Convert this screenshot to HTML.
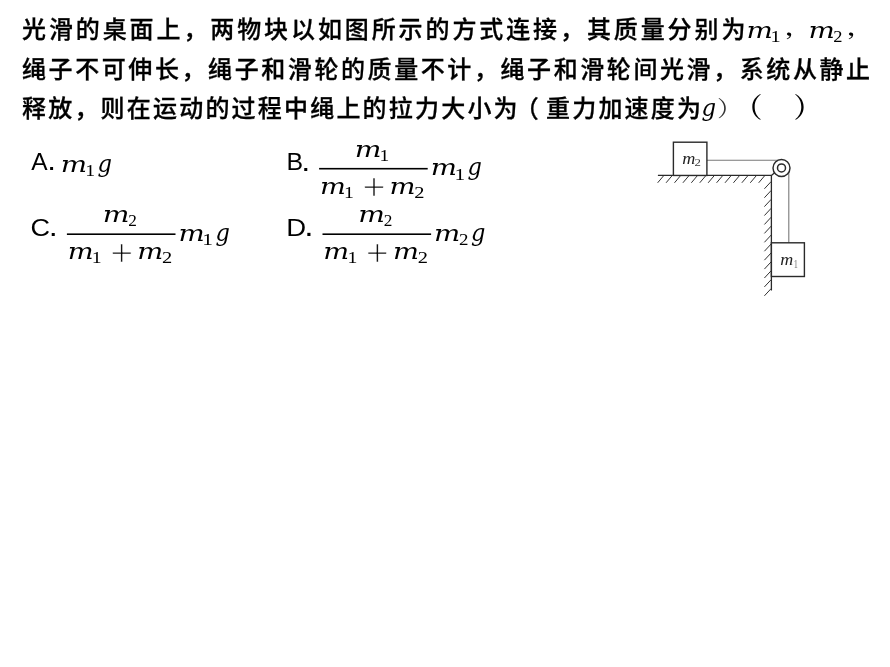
<!DOCTYPE html>
<html lang="zh-CN">
<head>
<meta charset="utf-8">
<title>题目</title>
<style>
html,body{margin:0;padding:0;background:#fff;}
body{width:890px;height:667px;position:relative;overflow:hidden;color:#000;}
.ln{will-change:transform;position:absolute;left:22px;white-space:nowrap;font-family:"Liberation Sans","Noto Sans CJK SC",sans-serif;font-weight:500;font-size:24px;-webkit-text-stroke:0.3px #000;line-height:40px;height:40px;}
#l1{top:10.2px;letter-spacing:2.9px;}
#l2{top:49.5px;letter-spacing:2.58px;}
#l3{top:88.8px;letter-spacing:2.2px;}
.c{position:relative;left:0px;}
.p{position:relative;left:-5px;}
svg{position:absolute;left:0;top:0;will-change:transform;}
.mi{font-family:"DejaVu Serif",serif;font-style:italic;font-size:23px;}
.mn{font-family:"Liberation Serif",serif;font-size:17px;}
.lb{font-family:"Liberation Sans",sans-serif;font-size:23px;}
.ti{font-family:"Liberation Serif",serif;font-style:italic;font-size:16px;}
.pl{font-family:"Liberation Serif",serif;font-size:32px;stroke:#fff;stroke-width:0.5px;}
.cj{font-family:"Noto Serif CJK SC",serif;font-size:26px;}
.cjb{font-family:"Noto Serif CJK SC",serif;font-size:24px;font-weight:600;}
</style>
</head>
<body>
<div class="ln" id="l1">光滑的桌面上<span class="c">，</span>两物块以如图所示的方式连接<span class="c">，</span>其质量分别为</div>
<div class="ln" id="l2">绳子不可伸长<span class="c">，</span>绳子和滑轮的质量不计<span class="c">，</span>绳子和滑轮间光滑<span class="c">，</span>系统从静止</div>
<div class="ln" id="l3">释放<span class="c">，</span>则在运动的过程中绳上的拉力大小为<span class="p">（</span>重力加速度为</div>
<svg width="890" height="667" viewBox="0 0 890 667">
<path d="M663.50 175.9L657.65 182.8M671.92 175.9L666.07 182.8M680.34 175.9L674.49 182.8M688.76 175.9L682.91 182.8M697.18 175.9L691.33 182.8M705.60 175.9L699.75 182.8M714.02 175.9L708.17 182.8M722.44 175.9L716.59 182.8M730.86 175.9L725.01 182.8M739.28 175.9L733.43 182.8M747.70 175.9L741.85 182.8M756.12 175.9L750.27 182.8M764.54 175.9L758.69 182.8M771.2 181.50L764.4 188.80M771.2 190.42L764.4 197.72M771.2 199.34L764.4 206.64M771.2 208.26L764.4 215.56M771.2 217.18L764.4 224.48M771.2 226.10L764.4 233.40M771.2 235.02L764.4 242.32M771.2 243.94L764.4 251.24M771.2 252.86L764.4 260.16M771.2 261.78L764.4 269.08M771.2 270.70L764.4 278.00M771.2 279.62L764.4 286.92M771.2 288.54L764.4 295.84" stroke="#333" stroke-width="1" fill="none"/>
<path d="M707 160.2H780.5M788.8 169V242.8" stroke="#7a7a7a" stroke-width="1.1" fill="none"/>
<path d="M657.9 175.45H771.4V290.5M771.4 175.45L774.6 172.8" stroke="#2a2a2a" stroke-width="1.3" fill="none"/>
<rect x="673.4" y="142.2" width="33.5" height="33.25" stroke="#2a2a2a" stroke-width="1.4" fill="#fff"/>
<rect x="771.4" y="242.8" width="33" height="33.7" stroke="#2a2a2a" stroke-width="1.4" fill="#fff"/>
<circle cx="781.5" cy="167.9" r="8.5" stroke="#2a2a2a" stroke-width="1.45" fill="#fff"/>
<circle cx="781.5" cy="167.9" r="4.0" stroke="#2a2a2a" stroke-width="1.5" fill="#fff"/>
<text class="mi" transform="matrix(1.2086 0 0 0.9756 746.47 37.90)">m</text>
<text class="mn" transform="matrix(1.1967 0 0 0.9643 770.42 42.00)">1</text>
<text class="cjb" transform="matrix(1.1190 0 0 0.7857 784.93 35.11)">，</text>
<text class="mi" transform="matrix(1.2086 0 0 0.9756 808.47 37.90)">m</text>
<text class="mn" transform="matrix(1.0870 0 0 0.9643 833.34 42.00)">2</text>
<text class="cjb" transform="matrix(1.1190 0 0 0.7857 846.93 35.11)">，</text>
<text class="mi" transform="matrix(0.9923 0 0 1.0230 701.61 116.48)">g</text>
<text class="cj" transform="matrix(0.9717 0 0 0.8353 717.02 115.86)" fill="#333">）</text>
<text class="cjb" transform="matrix(1.1972 0 0 1.1410 733.74 117.38)">（</text>
<text class="cjb" transform="matrix(1.1972 0 0 1.1410 793.52 117.38)">）</text>
<text class="lb" transform="matrix(1.0654 0 0 1.0503 31.20 169.99)">A</text>
<text class="lb" transform="matrix(1.3636 0 0 1.2000 47.34 170.30)">.</text>
<text class="lb" transform="matrix(1.0806 0 0 1.0314 286.45 170.30)">B</text>
<text class="lb" transform="matrix(1.4091 0 0 1.2400 301.14 170.50)">.</text>
<text class="lb" transform="matrix(1.1769 0 0 1.0429 30.61 235.79)">C</text>
<text class="lb" transform="matrix(1.4091 0 0 1.2400 48.64 236.10)">.</text>
<text class="lb" transform="matrix(1.1957 0 0 1.0566 286.25 235.70)">D</text>
<text class="lb" transform="matrix(1.4545 0 0 1.2800 304.15 236.20)">.</text>
<text class="mi" transform="matrix(1.2086 0 0 0.9837 60.77 171.60)">m</text>
<text class="mn" transform="matrix(1.1639 0 0 0.9821 85.27 175.70)">1</text>
<text class="mi" transform="matrix(0.9846 0 0 1.0345 97.51 172.12)">g</text>
<text class="mi" transform="matrix(1.2246 0 0 0.9512 354.84 156.80)">m</text>
<text class="mn" transform="matrix(1.1475 0 0 0.9643 379.49 160.90)">1</text>
<text class="mi" transform="matrix(1.1872 0 0 0.9837 319.90 193.90)">m</text>
<text class="mn" transform="matrix(1.1639 0 0 0.9911 344.07 198.00)">1</text>
<text class="pl" transform="matrix(1.2467 0 0 1.2065 362.68 200.37)">+</text>
<text class="mi" transform="matrix(1.1925 0 0 0.9837 389.49 193.90)">m</text>
<text class="mn" transform="matrix(1.2029 0 0 0.9911 414.26 198.00)">2</text>
<text class="mi" transform="matrix(1.2032 0 0 0.9837 430.67 175.30)">m</text>
<text class="mn" transform="matrix(1.2623 0 0 0.9821 454.53 179.50)">1</text>
<text class="mi" transform="matrix(0.9769 0 0 1.0230 467.62 175.48)">g</text>
<text class="mi" transform="matrix(1.2246 0 0 0.9512 102.64 222.20)">m</text>
<text class="mn" transform="matrix(1.0145 0 0 0.9643 128.19 226.30)">2</text>
<text class="mi" transform="matrix(1.1872 0 0 0.9837 67.70 259.30)">m</text>
<text class="mn" transform="matrix(1.1639 0 0 0.9911 91.87 263.40)">1</text>
<text class="pl" transform="matrix(1.2467 0 0 1.2065 110.48 265.77)">+</text>
<text class="mi" transform="matrix(1.1925 0 0 0.9837 137.29 259.30)">m</text>
<text class="mn" transform="matrix(1.2029 0 0 0.9911 162.06 263.40)">2</text>
<text class="mi" transform="matrix(1.2032 0 0 0.9837 178.47 240.70)">m</text>
<text class="mn" transform="matrix(1.2623 0 0 0.9821 202.33 244.90)">1</text>
<text class="mi" transform="matrix(0.9769 0 0 1.0230 215.42 240.88)">g</text>
<text class="mi" transform="matrix(1.2246 0 0 0.9512 358.24 222.20)">m</text>
<text class="mn" transform="matrix(1.0145 0 0 0.9643 383.79 226.30)">2</text>
<text class="mi" transform="matrix(1.1872 0 0 0.9837 323.30 259.30)">m</text>
<text class="mn" transform="matrix(1.1639 0 0 0.9911 347.47 263.40)">1</text>
<text class="pl" transform="matrix(1.2467 0 0 1.2065 366.08 265.77)">+</text>
<text class="mi" transform="matrix(1.1925 0 0 0.9837 392.89 259.30)">m</text>
<text class="mn" transform="matrix(1.2029 0 0 0.9911 417.66 263.40)">2</text>
<text class="mi" transform="matrix(1.2032 0 0 0.9837 434.07 240.70)">m</text>
<text class="mn" transform="matrix(1.1159 0 0 0.9821 458.92 244.90)">2</text>
<text class="mi" transform="matrix(0.9769 0 0 1.0230 471.02 240.88)">g</text>
<text class="ti" transform="matrix(1.1346 0 0 1.0909 682.23 163.60)" fill="#222">m</text>
<text class="mn" transform="matrix(0.7536 0 0 0.6518 694.57 166.20)" fill="#3a3a3a">2</text>
<text class="ti" transform="matrix(1.1250 0 0 1.0519 780.24 264.70)" fill="#222">m</text>
<text class="mn" transform="matrix(0.4918 0 0 0.6964 793.71 267.60)" fill="#777">1</text>
<rect x="319.1" y="167.90" width="108.6" height="1.6" fill="#000"/>
<rect x="66.9" y="233.40" width="108.6" height="1.6" fill="#000"/>
<rect x="322.5" y="233.40" width="108.6" height="1.6" fill="#000"/>
</svg>
</body>
</html>
